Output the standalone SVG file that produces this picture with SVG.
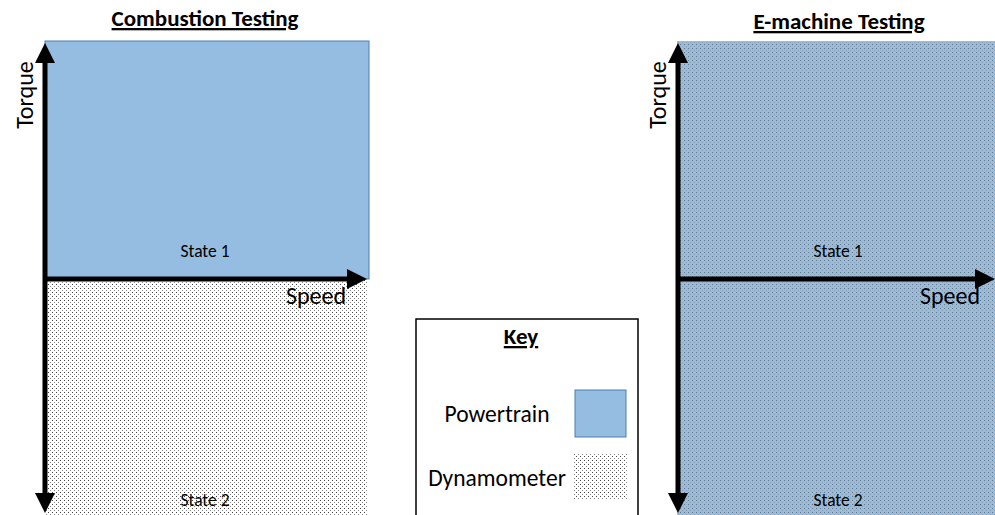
<svg xmlns="http://www.w3.org/2000/svg" width="995" height="515" viewBox="0 0 995 515">
<style>
.t{font-family:Carlito,"Liberation Sans",Arial,sans-serif;fill:#000}
.title{font-size:23px;font-weight:bold;text-decoration:underline}
.ax{font-size:24px}
.st{font-size:17.5px}
.key{font-size:23.5px}
.axis{stroke:#000;stroke-width:5;fill:none}
.pt{fill:#95bde2;stroke:#4a7eb0;stroke-width:1}
</style>
<defs>
<pattern id="dots" width="4" height="4" patternUnits="userSpaceOnUse">
<rect x="0" y="0" width="1" height="1" fill="#444"/>
<rect x="2" y="2" width="1" height="1" fill="#888"/>
</pattern>
<marker id="ah" markerWidth="4" markerHeight="4" refX="1" refY="2" orient="auto" markerUnits="strokeWidth" viewBox="0 0 4 4">
<path d="M0,0 L4,2 L0,4 Z" fill="#000"/>
</marker>
</defs>
<rect width="995" height="515" fill="#fff"/>

<g id="combustion">
<text class="t title" x="205" y="26" text-anchor="middle">Combustion Testing</text>
<g id="c-state1">
<rect class="pt" x="45" y="41" width="324" height="238"/>
<text class="t st" x="205" y="257" text-anchor="middle">State 1</text>
</g>
<g id="c-state2">
<rect x="45" y="279" width="322" height="236" fill="url(#dots)"/>
<text class="t st" x="205" y="506" text-anchor="middle">State 2</text>
</g>
<text class="t ax" transform="translate(33,95) rotate(-90)" text-anchor="middle">Torque</text>
<text class="t ax" x="316" y="304" text-anchor="middle">Speed</text>
</g>

<g id="key">
<rect x="416" y="319" width="222" height="200" fill="#fff" stroke="#000" stroke-width="1.5"/>
<text class="t title" x="521" y="344" text-anchor="middle">Key</text>
<text class="t key" x="497" y="422" text-anchor="middle">Powertrain</text>
<rect class="pt" x="575" y="390" width="51" height="47"/>
<text class="t key" x="497" y="486" text-anchor="middle">Dynamometer</text>
<rect x="573" y="454" width="54" height="46" fill="url(#dots)"/>
</g>

<g id="emachine">
<text class="t title" x="839" y="29" text-anchor="middle">E-machine Testing</text>
<g id="e-states">
<rect x="677" y="41" width="318" height="474" fill="#95bde2"/>
<rect x="677" y="41" width="318" height="474" fill="url(#dots)" opacity="0.6"/>
<text class="t st" x="838" y="257" text-anchor="middle">State 1</text>
<text class="t st" x="838" y="506" text-anchor="middle">State 2</text>
</g>
<text class="t ax" transform="translate(666,95) rotate(-90)" text-anchor="middle">Torque</text>
<text class="t ax" x="950" y="304" text-anchor="middle">Speed</text>
</g>

<g id="connectors">
<line class="axis" x1="45" y1="279" x2="45" y2="58" marker-end="url(#ah)"/>
<line class="axis" x1="45" y1="279" x2="45" y2="498" marker-end="url(#ah)"/>
<line class="axis" x1="43" y1="279" x2="352" y2="279" marker-end="url(#ah)"/>
<line class="axis" x1="678" y1="279" x2="678" y2="58" marker-end="url(#ah)"/>
<line class="axis" x1="678" y1="279" x2="678" y2="498" marker-end="url(#ah)"/>
<line class="axis" x1="676" y1="279" x2="980" y2="279" marker-end="url(#ah)"/>
</g>
</svg>
